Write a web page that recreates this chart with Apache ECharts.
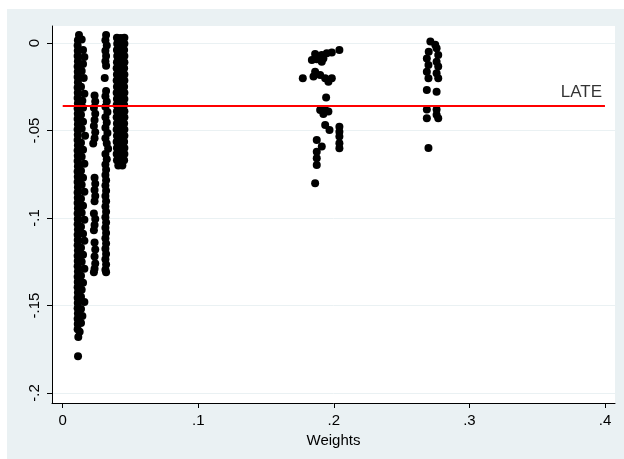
<!DOCTYPE html>
<html><head><meta charset="utf-8">
<script src="https://cdn.jsdelivr.net/npm/echarts@6/dist/echarts.min.js"></script>
<style>html,body{margin:0;padding:0;background:#fff}#c{width:624px;height:459px}</style>
</head><body><div id="c"></div>
<script>
const xTicks=[0,0.1,0.2,0.3,0.4];
const yTicks=[0,-0.05,-0.1,-0.15,-0.2];
const xName='Weights';
const lateValue=-0.036;
const lateRange=[0,0.4];
const lateText='LATE';

const colA=[[0.0120,0.0045],[0.0112,0.0015],[0.0110,-0.0015],[0.0111,-0.0045],[0.0110,-0.0075],[0.0112,-0.0105],[0.0110,-0.0135],[0.0111,-0.0165],[0.0110,-0.0195],[0.0112,-0.0225],[0.0110,-0.0255],[0.0111,-0.0285],[0.0110,-0.0315],[0.0112,-0.0345],[0.0110,-0.0375],[0.0111,-0.0405],[0.0110,-0.0435],[0.0112,-0.0465],[0.0110,-0.0495],[0.0111,-0.0525],[0.0110,-0.0555],[0.0112,-0.0585],[0.0110,-0.0615],[0.0111,-0.0645],[0.0110,-0.0675],[0.0112,-0.0705],[0.0110,-0.0735],[0.0111,-0.0765],[0.0110,-0.0795],[0.0112,-0.0825],[0.0110,-0.0855],[0.0111,-0.0885],[0.0110,-0.0915],[0.0112,-0.0945],[0.0110,-0.0975],[0.0111,-0.1005],[0.0110,-0.1035],[0.0112,-0.1065],[0.0110,-0.1095],[0.0111,-0.1125],[0.0110,-0.1155],[0.0112,-0.1185],[0.0110,-0.1215],[0.0111,-0.1245],[0.0110,-0.1275],[0.0112,-0.1305],[0.0110,-0.1335],[0.0111,-0.1365],[0.0110,-0.1395],[0.0112,-0.1425],[0.0110,-0.1455],[0.0111,-0.1485],[0.0110,-0.1515],[0.0112,-0.1545],[0.0110,-0.1575],[0.0111,-0.1605],[0.0110,-0.1635],[0.0115,-0.1680],[0.0113,-0.1790]];
const colA2=[[0.0140,0.0020],[0.0150,-0.0040],[0.0160,-0.0080],[0.0150,-0.0120],[0.0140,-0.0160],[0.0155,-0.0200],[0.0135,-0.0250],[0.0160,-0.0290],[0.0145,-0.0330],[0.0150,-0.0370],[0.0135,-0.0410],[0.0150,-0.0450],[0.0140,-0.0490],[0.0165,-0.0530],[0.0135,-0.0570],[0.0150,-0.0610],[0.0140,-0.0650],[0.0160,-0.0690],[0.0135,-0.0730],[0.0150,-0.0770],[0.0140,-0.0810],[0.0160,-0.0850],[0.0135,-0.0890],[0.0150,-0.0930],[0.0140,-0.0970],[0.0160,-0.1010],[0.0135,-0.1050],[0.0150,-0.1090],[0.0160,-0.1130],[0.0135,-0.1170],[0.0150,-0.1210],[0.0140,-0.1250],[0.0160,-0.1290],[0.0135,-0.1330],[0.0150,-0.1370],[0.0140,-0.1410],[0.0135,-0.1450],[0.0160,-0.1480],[0.0135,-0.1520],[0.0145,-0.1560],[0.0135,-0.1600],[0.0125,-0.1650]];
const colB=[[0.0235,-0.0300],[0.0240,-0.0335],[0.0230,-0.0370],[0.0240,-0.0405],[0.0235,-0.0440],[0.0230,-0.0475],[0.0240,-0.0510],[0.0235,-0.0545],[0.0225,-0.0575],[0.0235,-0.0770],[0.0240,-0.0805],[0.0235,-0.0840],[0.0240,-0.0875],[0.0235,-0.0905],[0.0230,-0.0975],[0.0240,-0.1005],[0.0235,-0.1040],[0.0230,-0.1070],[0.0235,-0.1140],[0.0240,-0.1180],[0.0235,-0.1220],[0.0240,-0.1260],[0.0235,-0.1290],[0.0230,-0.1310]];
const colC=[[0.0320,0.0045],[0.0315,0.0015],[0.0325,-0.0015],[0.0315,-0.0045],[0.0320,-0.0075],[0.0315,-0.0105],[0.0320,-0.0130],[0.0310,-0.0200],[0.0320,-0.0275],[0.0315,-0.0305],[0.0325,-0.0335],[0.0315,-0.0365],[0.0330,-0.0395],[0.0315,-0.0425],[0.0325,-0.0455],[0.0315,-0.0485],[0.0330,-0.0515],[0.0315,-0.0545],[0.0325,-0.0575],[0.0335,-0.0605],[0.0315,-0.0635],[0.0325,-0.0665],[0.0315,-0.0695],[0.0320,-0.0725],[0.0315,-0.0755],[0.0320,-0.0785],[0.0315,-0.0815],[0.0320,-0.0845],[0.0315,-0.0875],[0.0320,-0.0905],[0.0315,-0.0935],[0.0320,-0.0965],[0.0315,-0.0995],[0.0320,-0.1025],[0.0315,-0.1055],[0.0320,-0.1085],[0.0315,-0.1115],[0.0320,-0.1145],[0.0315,-0.1175],[0.0320,-0.1205],[0.0315,-0.1235],[0.0320,-0.1265],[0.0315,-0.1295],[0.0320,-0.1310]];
const colD=[[0.0400,0.0030],[0.0428,0.0028],[0.0455,0.0030],[0.0402,-0.0005],[0.0430,-0.0015],[0.0455,-0.0005],[0.0400,-0.0040],[0.0426,-0.0050],[0.0453,-0.0040],[0.0402,-0.0075],[0.0430,-0.0085],[0.0455,-0.0075],[0.0400,-0.0110],[0.0428,-0.0120],[0.0455,-0.0110],[0.0398,-0.0145],[0.0428,-0.0155],[0.0453,-0.0145],[0.0400,-0.0180],[0.0430,-0.0190],[0.0455,-0.0180],[0.0398,-0.0215],[0.0426,-0.0225],[0.0455,-0.0215],[0.0400,-0.0250],[0.0428,-0.0260],[0.0453,-0.0250],[0.0398,-0.0285],[0.0430,-0.0295],[0.0455,-0.0285],[0.0400,-0.0320],[0.0428,-0.0330],[0.0455,-0.0320],[0.0398,-0.0355],[0.0426,-0.0365],[0.0453,-0.0355],[0.0400,-0.0390],[0.0428,-0.0400],[0.0455,-0.0390],[0.0398,-0.0425],[0.0430,-0.0435],[0.0455,-0.0425],[0.0400,-0.0460],[0.0428,-0.0470],[0.0453,-0.0460],[0.0398,-0.0495],[0.0426,-0.0505],[0.0455,-0.0495],[0.0400,-0.0530],[0.0428,-0.0540],[0.0455,-0.0530],[0.0398,-0.0565],[0.0430,-0.0575],[0.0453,-0.0565],[0.0400,-0.0600],[0.0428,-0.0610],[0.0455,-0.0600],[0.0398,-0.0635],[0.0426,-0.0645],[0.0455,-0.0635],[0.0400,-0.0670],[0.0428,-0.0680],[0.0453,-0.0670],[0.0410,-0.0700],[0.0440,-0.0700]];
const clusterE=[[0.2041,-0.0040],[0.1985,-0.0055],[0.1862,-0.0063],[0.1911,-0.0069],[0.1948,-0.0059],[0.1838,-0.0097],[0.1874,-0.0093],[0.1911,-0.0107],[0.1923,-0.0088],[0.1771,-0.0202],[0.1850,-0.0192],[0.1862,-0.0164],[0.1899,-0.0183],[0.1936,-0.0202],[0.1960,-0.0221],[0.1985,-0.0202],[0.1943,-0.0312],[0.1899,-0.0383],[0.1936,-0.0383],[0.1960,-0.0392],[0.1923,-0.0406],[0.1936,-0.0469],[0.1968,-0.0497],[0.2041,-0.0478],[0.2041,-0.0507],[0.2041,-0.0535],[0.2041,-0.0573],[0.2041,-0.0602],[0.1874,-0.0554],[0.1911,-0.0592],[0.1874,-0.0621],[0.1874,-0.0659],[0.1874,-0.0697],[0.1862,-0.0802]];
const clusterF=[[0.2712,0.0008],[0.2748,-0.0010],[0.2758,-0.0030],[0.2700,-0.0050],[0.2770,-0.0069],[0.2686,-0.0088],[0.2758,-0.0107],[0.2698,-0.0126],[0.2770,-0.0135],[0.2686,-0.0164],[0.2758,-0.0173],[0.2698,-0.0202],[0.2770,-0.0202],[0.2686,-0.0269],[0.2758,-0.0278],[0.2686,-0.0380],[0.2686,-0.0430],[0.2758,-0.0380],[0.2758,-0.0410],[0.2770,-0.0430],[0.2698,-0.0600]];

const points=[].concat(colA,colA2,colB,colC,colD,clusterE,clusterF);
const fmt=v=>{const r=+(+v).toFixed(4);return r===0?'0':String(r).replace('0.','.');};
const FONT='"Liberation Sans", Arial, sans-serif';

const chart=echarts.init(document.getElementById('c'),null,{renderer:'canvas'});
chart.setOption({
  animation:false,
  backgroundColor:'#fff',
  graphic:[{type:'rect',z:-10,silent:true,shape:{x:7,y:9,width:617,height:450},style:{fill:'#EAF1F3'}}],
  grid:{left:52,top:26,right:9,bottom:56,show:true,backgroundColor:'#fff',borderWidth:0},
  xAxis:{type:'value',min:-0.0079,max:0.4074,
    axisLine:{onZero:false,lineStyle:{color:'#000',width:1}},
    axisTick:{show:true,length:5,customValues:xTicks,lineStyle:{color:'#000'}},
    axisLabel:{customValues:xTicks,formatter:fmt,color:'#000',fontFamily:FONT,fontSize:15,margin:10},
    splitLine:{show:false},
    name:xName,nameLocation:'middle',nameGap:26,
    nameTextStyle:{color:'#000',fontFamily:FONT,fontSize:15}},
  yAxis:{type:'value',min:-0.2057,max:0.0097,
    axisLine:{onZero:false,lineStyle:{color:'#000',width:1}},
    axisTick:{show:true,length:5,customValues:yTicks,lineStyle:{color:'#000'}},
    axisLabel:{customValues:yTicks,formatter:fmt,rotate:90,color:'#000',fontFamily:FONT,fontSize:15,margin:10},
    splitLine:{show:true,lineStyle:{color:'#EAF1F3',width:1}}},
  series:[
    {type:'scatter',data:points,symbol:'circle',symbolSize:8,itemStyle:{color:'#000',opacity:1},z:2},
    {type:'line',data:[[lateRange[0],lateValue],[lateRange[1],lateValue]],showSymbol:false,symbol:'none',
     lineStyle:{color:'#ff0000',width:2},z:3},
    {type:'scatter',data:[[lateRange[1],lateValue]],symbolSize:0,z:4,
     label:{show:true,formatter:lateText,position:'top',align:'right',distance:5,offset:[-3,0],
       color:'#000',fontFamily:FONT,fontSize:17}}
  ]
});
</script></body></html>
